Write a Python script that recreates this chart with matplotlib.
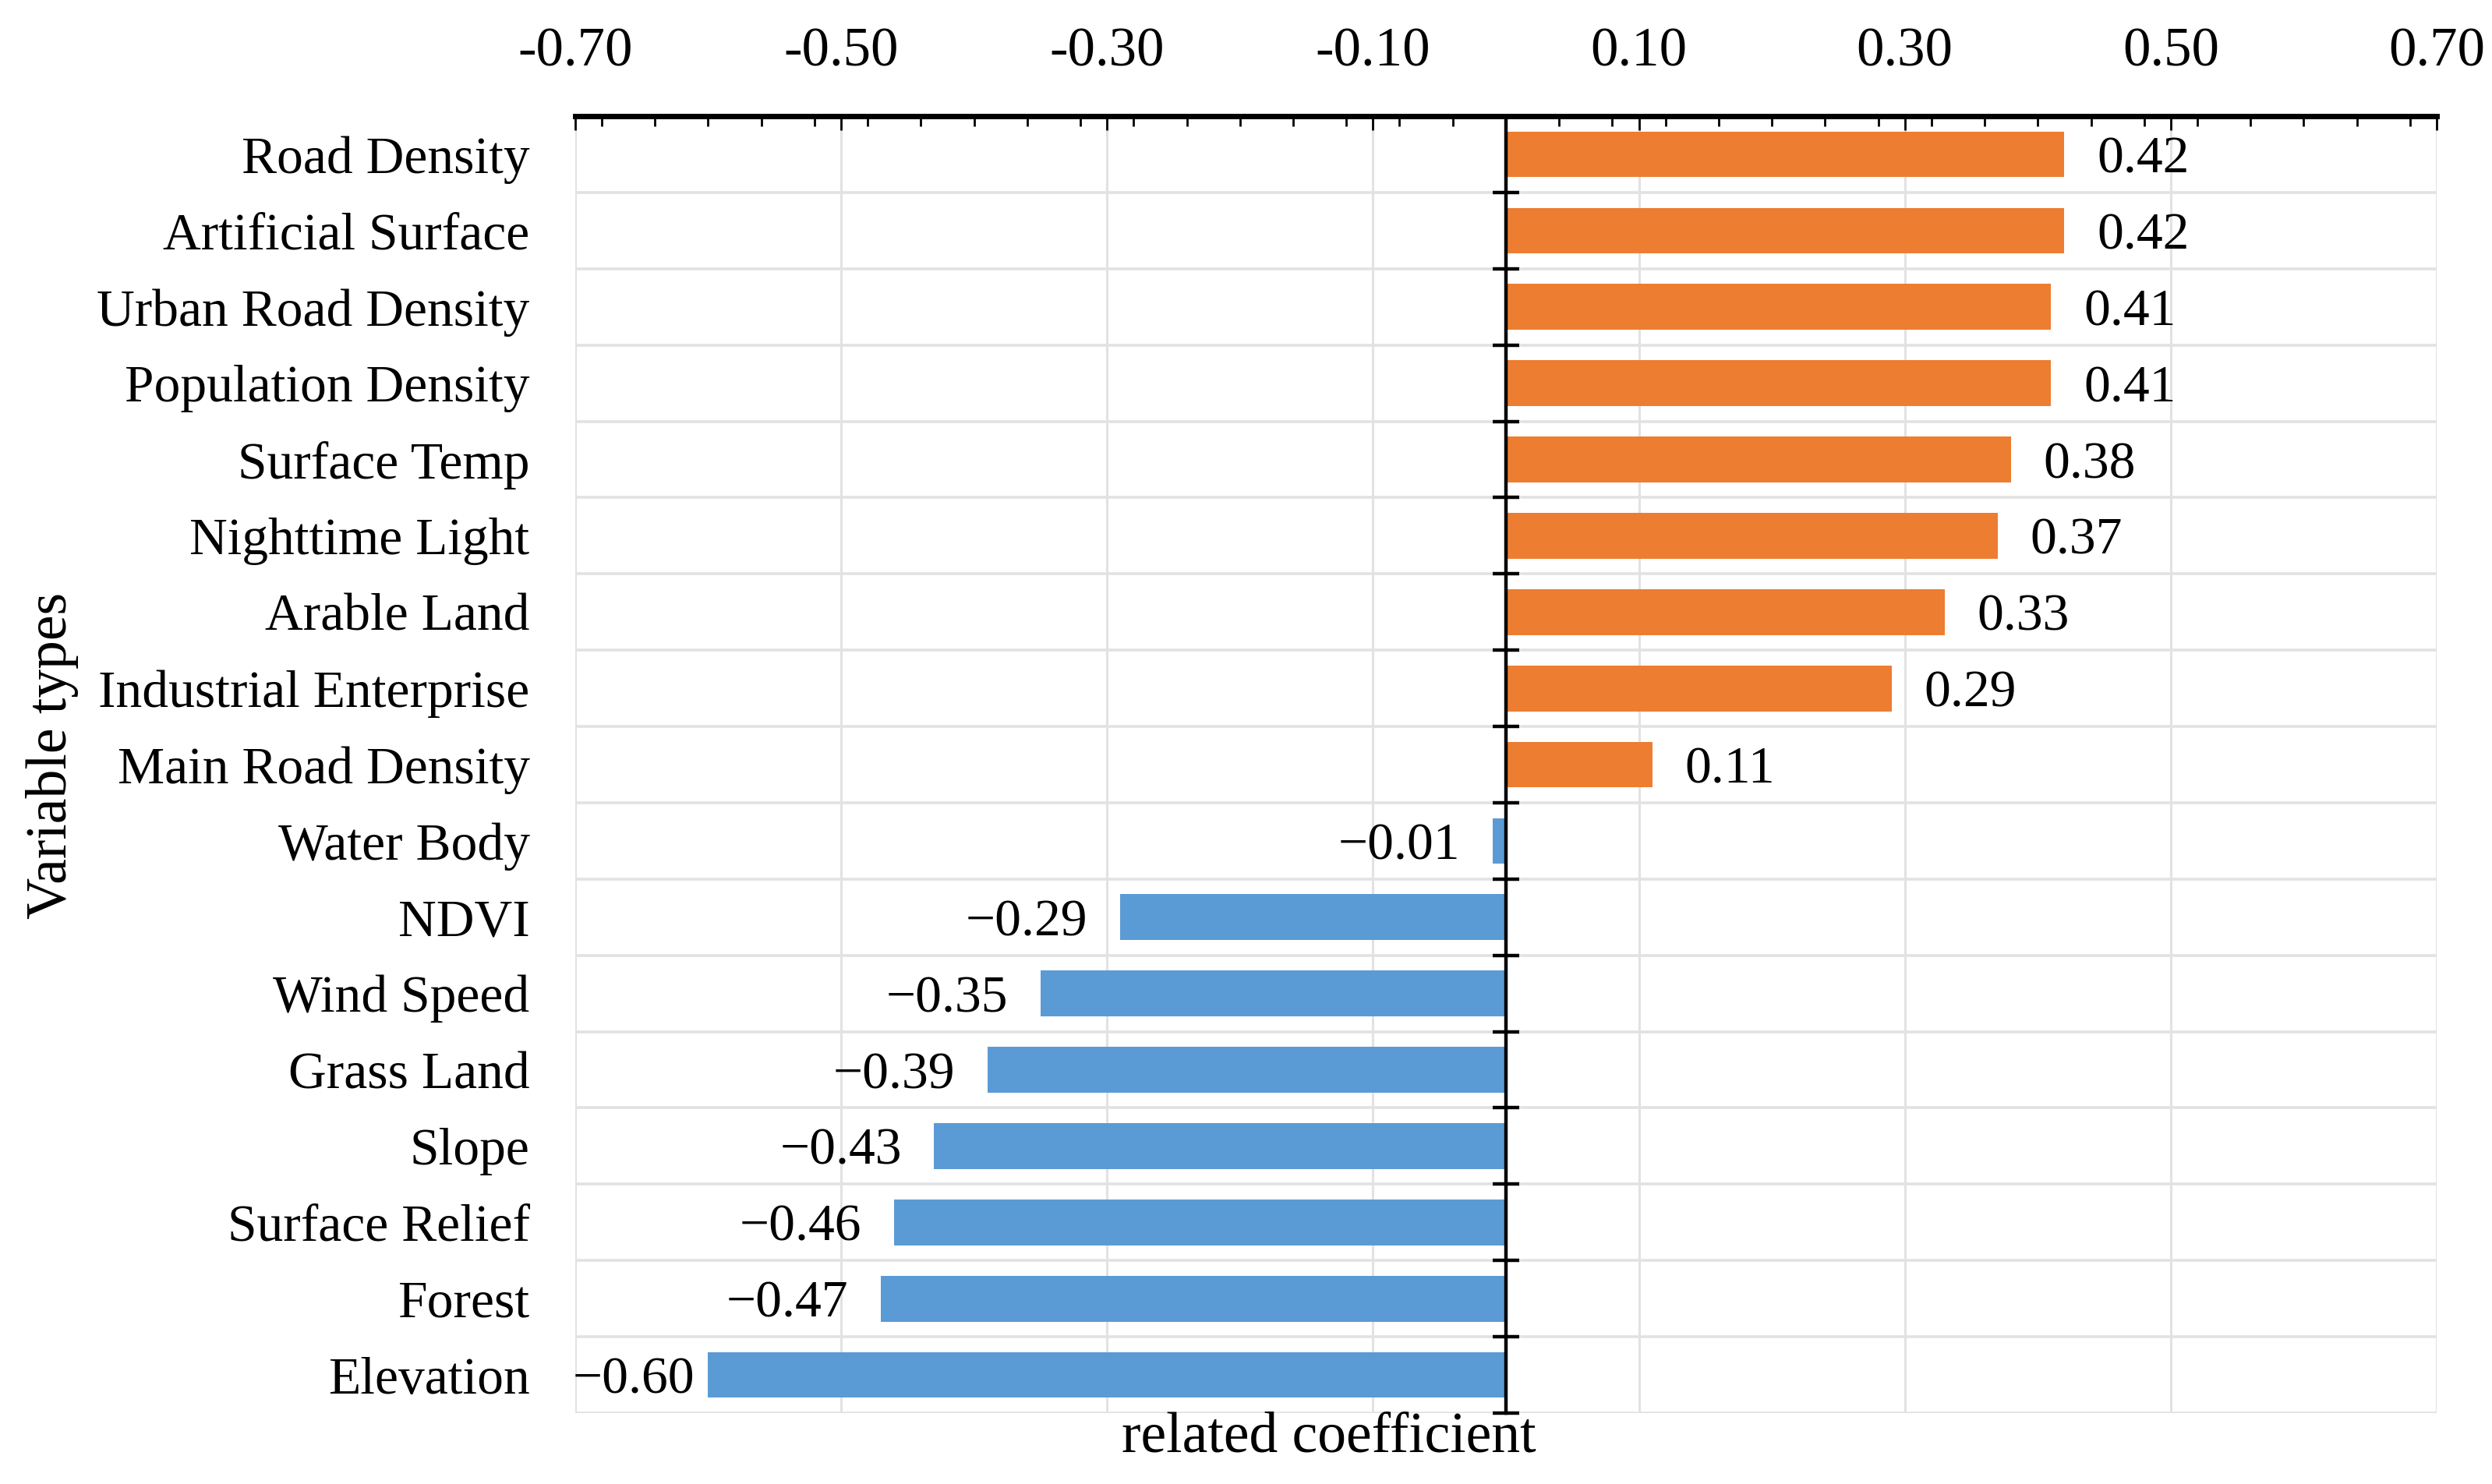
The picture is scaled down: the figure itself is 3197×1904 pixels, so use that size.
import matplotlib.pyplot as plt
from matplotlib.ticker import MultipleLocator, FuncFormatter
import numpy as np

plt.rcParams['font.family'] = ['Liberation Serif', 'DejaVu Serif']

# data, top to bottom
variables = ['Road Density', 'Artificial Surface', 'Urban Road Density', 'Population Density',
             'Surface Temp', 'Nighttime Light', 'Arable Land', 'Industrial Enterprise',
             'Main Road Density', 'Water Body', 'NDVI', 'Wind Speed', 'Grass Land', 'Slope',
             'Surface Relief', 'Forest', 'Elevation']
coef = [0.42, 0.42, 0.41, 0.41, 0.38, 0.37, 0.33, 0.29, 0.11, -0.01,
        -0.29, -0.35, -0.39, -0.43, -0.46, -0.47, -0.60]

orange = '#ED7D31'
blue = '#5B9BD5'
grid_c = '#e2e2e2'
xmin, xmax = -0.7, 0.7

fig = plt.figure(figsize=(15.985, 9.52), dpi=200)
ax = fig.add_axes([0.2308, 0.0478, 0.9778 - 0.2308, 0.9217 - 0.0478])

y = np.arange(len(variables))
colors = [orange if v >= 0 else blue for v in coef]
ax.barh(y, coef, height=0.6, color=colors, zorder=2)

# value labels (the label that would not fit left of its bar is pushed against the edge)
for yi, v in zip(y, coef):
    if v >= 0:
        ax.annotate(f'{v:.2f}', (v, yi), xytext=(15, 0), textcoords='offset points',
                    ha='left', va='center_baseline', fontsize=24.3)
    elif v < -0.55:
        ax.annotate(f'\u2212{abs(v):.2f}', (xmin, yi), xytext=(-1, 0), textcoords='offset points',
                    ha='left', va='center_baseline', fontsize=24.3)
    else:
        ax.annotate(f'\u2212{abs(v):.2f}', (v, yi), xytext=(-15, 0), textcoords='offset points',
                    ha='right', va='center_baseline', fontsize=24.3)

ax.set_xlim(xmin, xmax)
ax.set_ylim(len(variables) - 0.5, -0.5)

# top x axis
ax.xaxis.tick_top()
ax.set_xticks(np.arange(-0.7, 0.71, 0.2))
ax.xaxis.set_minor_locator(MultipleLocator(0.04))
ax.xaxis.set_major_formatter(FuncFormatter(lambda x, p: f'{x:.2f}'))
ax.tick_params(axis='x', which='major', direction='in', length=6.5, width=1.0,
               labelsize=25.5, pad=18)
ax.tick_params(axis='x', which='minor', direction='in', length=4.5, width=1.0)

# y labels
ax.set_yticks(y)
ax.set_yticklabels(variables)
ax.set_yticks(np.arange(-0.5, len(variables), 1.0), minor=True)
ax.tick_params(axis='y', which='both', length=0, labelsize=24.3, pad=21)

ax.grid(axis='x', which='major', color=grid_c, linewidth=1.1, zorder=0)
ax.grid(axis='y', which='minor', color=grid_c, linewidth=1.3, zorder=0)
ax.set_axisbelow(True)

for s in ['left', 'right', 'bottom']:
    ax.spines[s].set_visible(False)
ax.spines['top'].set_linewidth(2.5)

# vertical axis line at zero with category boundary ticks
ax2 = ax.twinx()
ax2.set_ylim(ax.get_ylim())
ax2.spines['left'].set_position(('data', 0))
ax2.spines['left'].set_linewidth(1.6)
ax2.spines['left'].set_zorder(5)
for s in ['right', 'top', 'bottom']:
    ax2.spines[s].set_visible(False)
ax2.yaxis.set_ticks_position('left')
ax2.set_yticks(np.arange(-0.5, len(variables), 1.0))
ax2.set_yticklabels([])
ax2.tick_params(axis='y', direction='inout', length=12, width=1.6)

fig.text(1705 / 3197, 1 - 1845 / 1904, 'related coefficient', ha='center', va='center', fontsize=26.5)
fig.text(67 / 3197, 1 - 969 / 1904, 'Variable types', ha='center', va='center',
         rotation=90, fontsize=26.5)

fig.savefig('out.png', dpi=200)
